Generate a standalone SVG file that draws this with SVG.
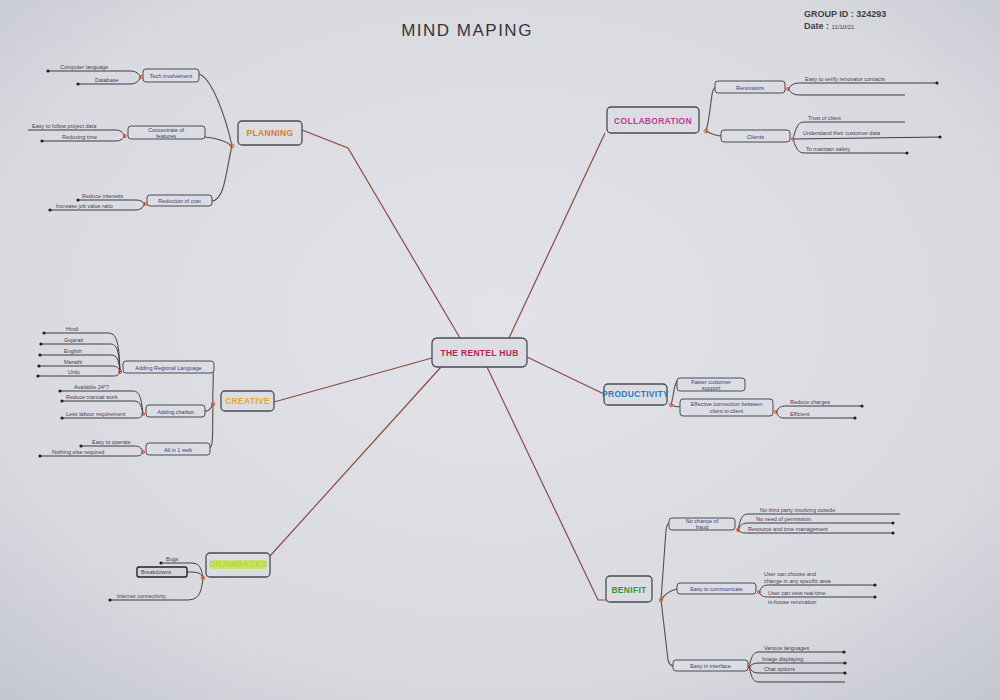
<svg xmlns="http://www.w3.org/2000/svg" width="1000" height="700" viewBox="0 0 1000 700">
<defs>
<radialGradient id="paper" cx="50%" cy="45%" r="75%">
<stop offset="0" stop-color="#e2e3e8"/>
<stop offset="0.7" stop-color="#d9dae0"/>
<stop offset="1" stop-color="#c4c6ce"/>
</radialGradient>
<style>
text{font-family:"Liberation Sans","DejaVu Sans",sans-serif}
.main{fill:none;stroke:#8a4b3e;stroke-width:1.2}
.br{fill:none;stroke:#5a4a4a;stroke-width:1.1}
.lf{fill:none;stroke:#3e3a40;stroke-width:1}
.hub{fill:#dcdde3;stroke:#4a4a52;stroke-width:1.3}
.sub{fill:#dcdde3;stroke:#4a4a52;stroke-width:1}
.dot{fill:#1e1e22}
.jn{fill:none;stroke:#e0603a;stroke-width:1}
.hl{font-size:8.5px;font-weight:bold;text-anchor:middle;letter-spacing:0.3px}
.sl{font-size:5.5px;fill:#3a3a7a;text-anchor:middle}
.lt{font-size:5.5px;fill:#4a3a55}
</style>
</defs>
<rect width="1000" height="700" fill="url(#paper)"/>
<g id="header">
<text x="467" y="36" font-size="17" fill="#34343a" text-anchor="middle" letter-spacing="1.5">MIND MAPING</text>
<text x="804" y="17" font-size="9" font-weight="bold" fill="#404048">GROUP ID : 324293</text>
<text x="804" y="29" font-size="9" font-weight="bold" fill="#404048">Date  :  <tspan font-size="6" font-weight="normal">11/10/21</tspan></text>
</g>
<g id="connectors">
<path class="main" d="M460,338 L348,148 L302,130"/>
<path class="main" d="M509,338 L605,133"/>
<path class="main" d="M432,358 L274,402"/>
<path class="main" d="M527,357 L604,394"/>
<path class="main" d="M487,367 L598,600 L606,600"/>
<path class="main" d="M441,367 L270,556"/>
</g>
<g id="center">
<rect class="hub" x="432" y="338" width="95" height="29" rx="5"/>
<text class="hl" x="479.5" y="356" fill="#b02a4a" font-size="8.5">THE RENTEL HUB</text>
</g>
<g id="planning">
<rect class="hub" x="238" y="121" width="64" height="24" rx="4"/>
<text class="hl" x="270" y="136" fill="#e07a2a">PLANNING</text>
<path class="br" d="M232,146 C226,118 212,78 199,74"/>
<path class="br" d="M232,146 C225,140 215,138 205,137"/>
<path class="br" d="M232,146 C226,170 225,200 212,201"/>
<circle class="jn" cx="232" cy="146" r="2"/>
<rect class="sub" x="143" y="69" width="56" height="13" rx="3"/>
<text class="sl" x="171" y="78">Tech involvement</text>
<rect class="sub" x="128" y="126" width="77" height="13" rx="3"/>
<text class="sl" x="166" y="131.5">Concentrate of</text>
<text class="sl" x="166" y="137.5">features</text>
<rect class="sub" x="147" y="195" width="65" height="11" rx="3"/>
<text class="sl" x="179.5" y="202.5">Reduction of cost</text>
<path class="lf" d="M141,77 C137,72 135,71 129,71 L48,71"/>
<path class="lf" d="M141,77 C137,83 135,84 129,84 L78,84"/>
<circle class="jn" cx="141" cy="77" r="1.6"/>
<circle class="dot" cx="48" cy="71" r="1.6"/><circle class="dot" cx="78" cy="84" r="1.6"/>
<text class="lt" x="60" y="69">Computer language</text>
<text class="lt" x="95" y="82">Database</text>
<path class="lf" d="M125,136 C121,130 119,130 113,130 L28,130"/>
<path class="lf" d="M125,136 C121,141 119,141 113,141 L42,141"/>
<circle class="jn" cx="125" cy="136" r="1.6"/>
<circle class="dot" cx="42" cy="141" r="1.6"/>
<text class="lt" x="32" y="128">Easy to follow project data</text>
<text class="lt" x="62" y="139">Reducing time</text>
<path class="lf" d="M145,204 C141,200 139,200 133,200 L78,200"/>
<path class="lf" d="M145,204 C141,210 139,210 133,210 L50,210"/>
<circle class="jn" cx="145" cy="204" r="1.6"/>
<circle class="dot" cx="78" cy="200" r="1.6"/><circle class="dot" cx="50" cy="210" r="1.6"/>
<text class="lt" x="82" y="198">Reduce interests</text>
<text class="lt" x="56" y="208">Increase job value ratio</text>
</g>
<g id="collaboration">
<rect class="hub" x="607" y="107" width="92" height="26" rx="4"/>
<text class="hl" x="653" y="124" fill="#c0389a">COLLABORATION</text>
<path class="br" d="M706,131 C712,110 710,88 716,87"/>
<path class="br" d="M706,131 C712,134 715,136 722,136"/>
<circle class="jn" cx="706" cy="131" r="2"/>
<rect class="sub" x="715" y="81" width="70" height="12" rx="3"/>
<text class="sl" x="750" y="89.5">Renovators</text>
<rect class="sub" x="721" y="130" width="69" height="12" rx="3"/>
<text class="sl" x="755.5" y="138.5">Clients</text>
<path class="lf" d="M788,89 C792,84 795,83 800,83 L937,83"/>
<path class="lf" d="M788,89 C792,94 795,95 800,95 L905,95"/>
<circle class="jn" cx="788" cy="89" r="1.6"/>
<circle class="dot" cx="937" cy="83" r="1.6"/>
<text class="lt" x="805" y="81">Easy to verify renovator contacts</text>
<path class="lf" d="M793,139 C797,124 799,122 805,122 L905,122"/>
<path class="lf" d="M793,139 L940,137"/>
<path class="lf" d="M793,139 C797,152 800,153 806,153 L907,153"/>
<circle class="jn" cx="793" cy="139" r="1.6"/>
<circle class="dot" cx="940" cy="137" r="1.6"/><circle class="dot" cx="907" cy="153" r="1.6"/>
<text class="lt" x="808" y="120">Trust of client</text>
<text class="lt" x="803" y="135">Understand their customer data</text>
<text class="lt" x="806" y="151">To maintain safety</text>
</g>
<g id="creative">
<rect class="hub" x="221" y="391" width="53" height="20" rx="4"/>
<text class="hl" x="247.5" y="404" fill="#e6a52a" font-size="7.5">CREATIVE</text>
<path class="br" d="M213,404 C212,385 215,372 212,368"/>
<path class="br" d="M213,404 C210,410 208,412 205,411"/>
<path class="br" d="M213,404 C212,430 214,443 210,448"/>
<circle class="jn" cx="213" cy="404" r="1.8"/>
<rect class="sub" x="123" y="361" width="91" height="12" rx="3"/>
<text class="sl" x="168.5" y="369.5">Adding Regional Language</text>
<rect class="sub" x="146" y="405" width="59" height="12" rx="3"/>
<text class="sl" x="175.5" y="413.5">Adding chatbot</text>
<rect class="sub" x="146" y="443" width="64" height="12" rx="3"/>
<text class="sl" x="178" y="451.5">All in 1 web</text>
<path class="lf" d="M120,372 C119,340 116,333 108,333 L44,333"/>
<path class="lf" d="M120,372 C119,350 117,344 110,344 L41,344"/>
<path class="lf" d="M120,372 C119,360 117,355 111,355 L40,355"/>
<path class="lf" d="M120,372 C119,368 117,366 112,366 L39,366"/>
<path class="lf" d="M120,372 C118,376 116,376 112,376 L38,376"/>
<circle class="jn" cx="120" cy="372" r="1.6"/>
<circle class="dot" cx="44" cy="333" r="1.6"/><circle class="dot" cx="41" cy="344" r="1.6"/><circle class="dot" cx="40" cy="355" r="1.6"/><circle class="dot" cx="39" cy="366" r="1.6"/><circle class="dot" cx="38" cy="376" r="1.6"/>
<text class="lt" x="66" y="331">Hindi</text>
<text class="lt" x="64" y="342">Gujarati</text>
<text class="lt" x="64" y="353">English</text>
<text class="lt" x="64" y="364">Marathi</text>
<text class="lt" x="68" y="374">Urdu</text>
<path class="lf" d="M143,414 C141,395 139,391 132,391 L60,391"/>
<path class="lf" d="M143,414 C141,403 139,401 133,401 L62,401"/>
<path class="lf" d="M143,414 C141,418 139,418 134,418 L62,418"/>
<circle class="jn" cx="143" cy="414" r="1.6"/>
<circle class="dot" cx="60" cy="391" r="1.6"/><circle class="dot" cx="62" cy="401" r="1.6"/><circle class="dot" cx="62" cy="418" r="1.6"/>
<text class="lt" x="74" y="389">Available 24*7</text>
<text class="lt" x="66" y="399">Reduce manual work</text>
<text class="lt" x="66" y="416">Less labour requirement</text>
<path class="lf" d="M143,452 C141,447 139,446 134,446 L81,446"/>
<path class="lf" d="M143,452 C141,456 139,456 134,456 L40,456"/>
<circle class="jn" cx="143" cy="452" r="1.6"/>
<circle class="dot" cx="81" cy="446" r="1.6"/><circle class="dot" cx="40" cy="456" r="1.6"/>
<text class="lt" x="92" y="444">Easy to operate</text>
<text class="lt" x="52" y="454">Nothing else required</text>
</g>
<g id="productivity">
<rect class="hub" x="604" y="384" width="63" height="21" rx="4"/>
<text class="hl" x="635.5" y="397" fill="#1f7fbf" font-size="6.2" letter-spacing="0">PRODUCTIVITY</text>
<path class="br" d="M671,405 C674,395 674,382 678,380"/>
<path class="br" d="M671,405 C675,407 678,407 681,407"/>
<circle class="jn" cx="671" cy="405" r="1.8"/>
<rect class="sub" x="677" y="378" width="68" height="13" rx="3"/>
<text class="sl" x="711" y="383.5">Faster customer</text>
<text class="sl" x="711" y="389.5">support</text>
<rect class="sub" x="680" y="399" width="93" height="17" rx="3"/>
<text class="sl" x="726.5" y="406">Effective connection between</text>
<text class="sl" x="726.5" y="413">client to client</text>
<path class="lf" d="M776,412 C779,407 781,406 786,406 L862,406"/>
<path class="lf" d="M776,412 C779,418 781,418 786,418 L855,418"/>
<circle class="jn" cx="776" cy="412" r="1.6"/>
<circle class="dot" cx="862" cy="406" r="1.6"/><circle class="dot" cx="855" cy="418" r="1.6"/>
<text class="lt" x="790" y="404">Reduce charges</text>
<text class="lt" x="790" y="416">Efficient</text>
</g>
<g id="benifit">
<rect class="hub" x="606" y="576" width="46" height="26" rx="4"/>
<text class="hl" x="629" y="592.5" fill="#2e9a3c" font-size="8">BENIFIT</text>
<path class="br" d="M661,600 L666,530 C667,524 668,523 670,523"/>
<path class="br" d="M661,600 C666,592 672,590 677,589"/>
<path class="br" d="M661,600 L668,660 C669,664 671,666 674,666"/>
<circle class="jn" cx="661" cy="600" r="1.8"/>
<rect class="sub" x="669" y="518" width="66" height="12" rx="3"/>
<text class="sl" x="702" y="523">No chance of</text>
<text class="sl" x="702" y="528.5">fraud</text>
<rect class="sub" x="677" y="583" width="79" height="11" rx="3"/>
<text class="sl" x="716.5" y="590.5">Easy to communicate</text>
<rect class="sub" x="673" y="660" width="75" height="11" rx="3"/>
<text class="sl" x="710.5" y="667.5">Easy in interface</text>
<path class="lf" d="M738,530 C741,516 743,514 749,514 L900,514"/>
<path class="lf" d="M738,530 C741,524 743,523 749,523 L893,523"/>
<path class="lf" d="M738,530 C741,533 743,533 749,533 L893,533"/>
<circle class="jn" cx="738" cy="530" r="1.6"/>
<circle class="dot" cx="893" cy="523" r="1.6"/><circle class="dot" cx="893" cy="533" r="1.6"/>
<text class="lt" x="760" y="512">No third party involving outside</text>
<text class="lt" x="756" y="521">No need of permission</text>
<text class="lt" x="748" y="531">Resource and time management</text>
<path class="lf" d="M759,592 C762,586 764,585 769,585 L875,585"/>
<path class="lf" d="M759,592 C762,597 764,597 769,597 L875,597"/>
<circle class="jn" cx="759" cy="592" r="1.6"/>
<circle class="dot" cx="875" cy="585" r="1.6"/><circle class="dot" cx="875" cy="597" r="1.6"/>
<text class="lt" x="764" y="576">User can choose and</text>
<text class="lt" x="764" y="583">change in any specific area</text>
<text class="lt" x="768" y="595">User can view real-time</text>
<text class="lt" x="768" y="604">in-house renovation</text>
<path class="lf" d="M749,667 C752,654 754,652 760,652 L844,652"/>
<path class="lf" d="M749,667 C752,664 754,663 760,663 L845,663"/>
<path class="lf" d="M749,667 C752,672 754,673 760,673 L845,673"/>
<path class="lf" d="M749,667 C752,680 754,682 760,682 L845,682"/>
<circle class="jn" cx="749" cy="667" r="1.6"/>
<circle class="dot" cx="844" cy="652" r="1.6"/><circle class="dot" cx="845" cy="663" r="1.6"/><circle class="dot" cx="845" cy="673" r="1.6"/>
<text class="lt" x="764" y="650">Various languages</text>
<text class="lt" x="762" y="661">Image displaying</text>
<text class="lt" x="764" y="671">Chat options</text>
</g>
<g id="drawbacks">
<rect class="hub" x="206" y="553" width="64" height="24" rx="4"/>
<rect x="211" y="560" width="55" height="9" fill="#c9e466"/>
<text class="hl" x="238.5" y="567" fill="#b5d44e" font-size="6.3" letter-spacing="0">DRAWBACKS</text>
<path class="lf" d="M203,578 C201,565 198,563 190,563 L161,563"/>
<path class="lf" d="M203,578 C201,573 199,572 187,572"/>
<path class="lf" d="M203,578 C201,598 196,600 185,600 L110,600"/>
<circle class="jn" cx="203" cy="578" r="1.8"/>
<circle class="dot" cx="161" cy="563" r="1.6"/><circle class="dot" cx="110" cy="600" r="1.6"/>
<text class="lt" x="166" y="561">Bugs</text>
<rect x="137" y="567" width="50" height="10" rx="2" fill="#d4d5db" stroke="#222" stroke-width="1.4"/>
<text class="lt" x="141" y="574" fill="#222">Breakdowns</text>
<text class="lt" x="117" y="598">Internet connectivity</text>
</g>
</svg>
